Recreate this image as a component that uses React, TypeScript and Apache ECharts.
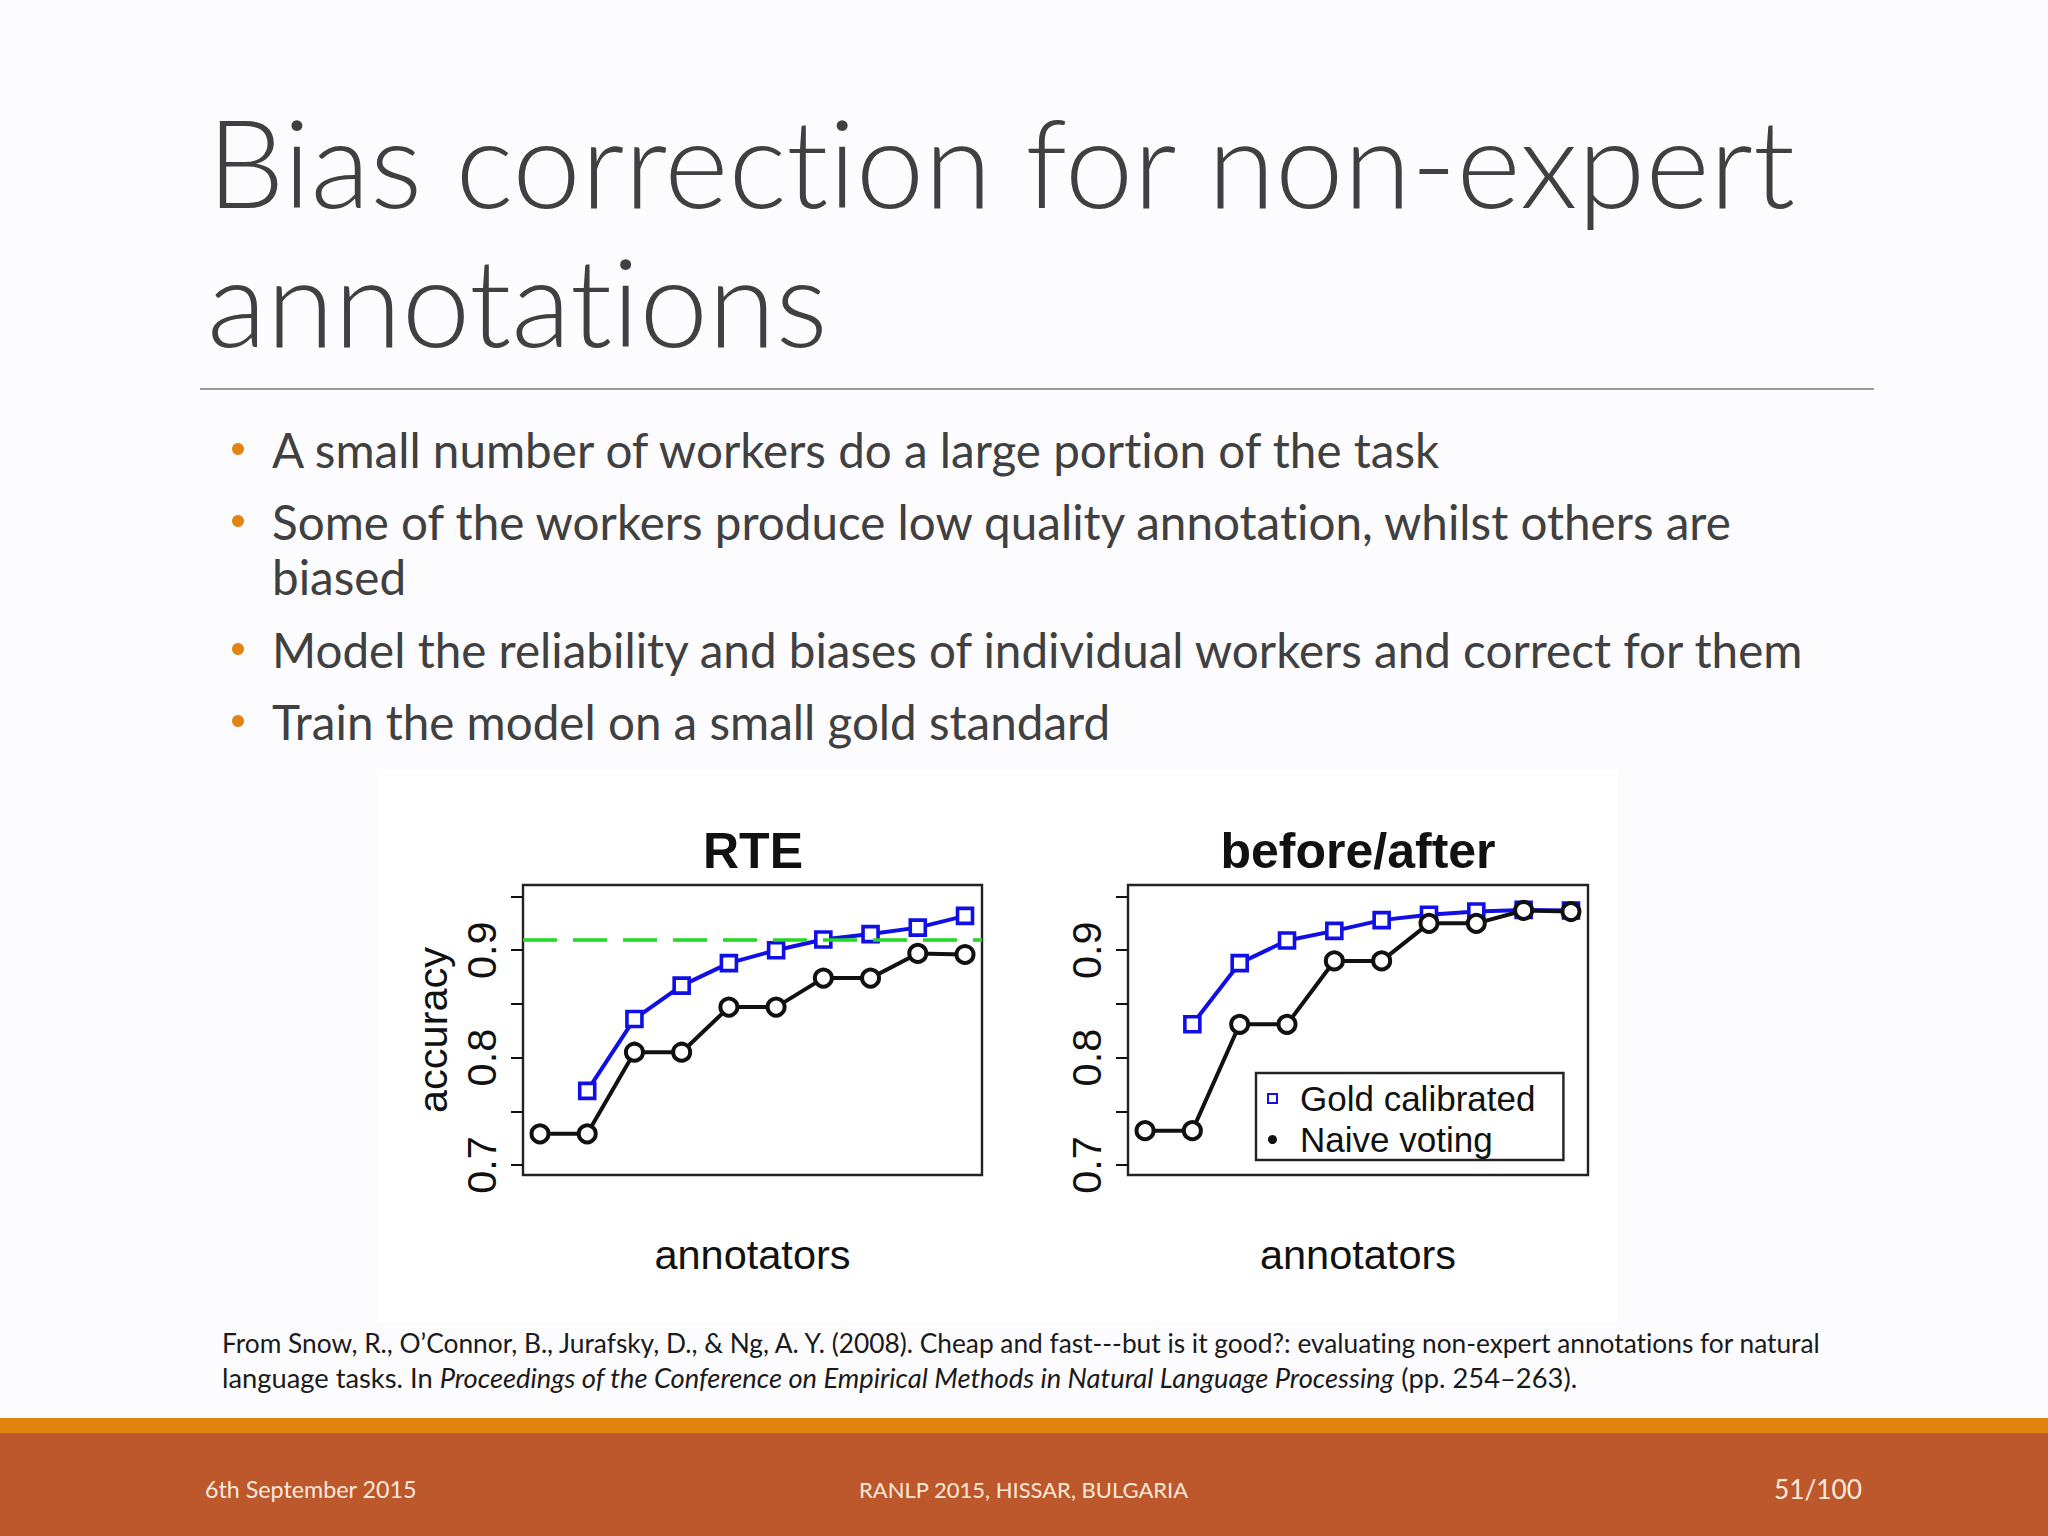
import React, { useEffect, useRef } from "react";
import * as echarts from "echarts";

// ---------- data ----------
const annotators = [1, 2, 3, 4, 5, 6, 7, 8, 9, 10];
const rteNaive = [0.729, 0.729, 0.805, 0.805, 0.847, 0.847, 0.874, 0.874, 0.897, 0.896];
const rteGold = [null, 0.769, 0.836, 0.867, 0.888, 0.9, 0.91, 0.915, 0.921, 0.932];
const rteExpert = 0.9106;
const baNaive = [0.732, 0.732, 0.831, 0.831, 0.89, 0.89, 0.925, 0.925, 0.937, 0.936];
const baGold = [null, 0.831, 0.888, 0.909, 0.918, 0.928, 0.933, 0.936, 0.9375, 0.937];
const yTickValues = [0.7, 0.75, 0.8, 0.85, 0.9, 0.95];
const yLabelValues = [0.7, 0.8, 0.9];
const panelTitles = ["RTE", "before/after"];
const seriesNames = ["Gold calibrated", "Naive voting"];
const yAxisTitle = "accuracy";
const xAxisTitle = "annotators";

const slideTitle = ["Bias correction for non-expert", "annotations"];
const bullets = [
  "A small number of workers do a large portion of the task",
  "Some of the workers produce low quality annotation, whilst others are",
  "biased",
  "Model the reliability and biases of individual workers and correct for them",
  "Train the model on a small gold standard",
];
const bulletHasDot = [true, true, false, true, true];
const citation1 =
  "From Snow, R., O\u2019Connor, B., Jurafsky, D., & Ng, A. Y. (2008). Cheap and fast---but is it good?: evaluating non-expert annotations for natural";
const citation2a = "language tasks. In ";
const citation2b = "Proceedings of the Conference on Empirical Methods in Natural Language Processing";
const citation2c = " (pp. 254\u2013263).";
const footerDate = "6th September 2015";
const footerVenue = "RANLP 2015, HISSAR, BULGARIA";
const footerPage = "51/100";

const BLUE = "#1010e6";
const BLACK = "#111111";
const GREEN = "#22d822";
const RFONT = "'Liberation Sans', Arial, sans-serif";
const SFONT = "Lato, 'Open Sans', sans-serif";

function measure(text: string, weight = "normal", style = "normal") {
  const c = document.createElement("canvas");
  const ctx = c.getContext("2d")!;
  ctx.font = `${style} ${weight} 100px ${SFONT}`;
  return ctx.measureText(text).width;
}
function fitSize(text: string, target: number, weight = "normal", style = "normal") {
  return (100 * target) / measure(text, weight, style);
}

function pairs(vals: (number | null)[]) {
  const out: number[][] = [];
  vals.forEach((v, i) => {
    if (v !== null) out.push([annotators[i], v]);
  });
  return out;
}

export default function App() {
  const ref = useRef<HTMLDivElement>(null);
  useEffect(() => {
    const chart = echarts.init(ref.current!, null, { renderer: "svg" });

    const titleSize = fitSize(slideTitle[0], 1593, "300");
    const bulletSizes = [
      fitSize(bullets[0], 1169),
      fitSize(bullets[1], 1463),
      fitSize(bullets[3], 1537),
      fitSize(bullets[4], 842),
    ];
    const bulletSize = bulletSizes.reduce((a, b) => a + b, 0) / bulletSizes.length;
    const citeSize = fitSize(citation1, 1603);
    const cite2W =
      measure(citation2a) + measure(citation2b, "normal", "italic") + measure(citation2c);
    const cite2Size = (100 * 1356) / cite2W;
    const dateSize = fitSize(footerDate, 212);
    const venueSize = fitSize(footerVenue, 330);
    const pageSize = fitSize(footerPage, 88);

    const bulletY = [449, 521, 576, 649, 721];

    const grids = [
      { left: 523, top: 885, width: 459, height: 290 },
      { left: 1128, top: 885, width: 460, height: 290 },
    ];

    const xAxes = grids.map((_, i) => ({
      type: "value",
      gridIndex: i,
      min: 0.64,
      max: 10.36,
      axisLine: { show: false },
      axisTick: { show: false },
      axisLabel: { show: false },
      splitLine: { show: false },
      name: xAxisTitle,
      nameLocation: "middle",
      nameGap: 58,
      nameTextStyle: { fontSize: 41.5, fontFamily: RFONT, color: BLACK },
    }));

    const yAxes = grids.map((_, i) => ({
      type: "value",
      gridIndex: i,
      min: 0.6907,
      max: 0.9607,
      axisLine: { show: false },
      axisTick: {
        show: true,
        customValues: yTickValues,
        length: 12,
        lineStyle: { color: BLACK, width: 2 },
      },
      axisLabel: {
        show: true,
        customValues: yLabelValues,
        rotate: 90,
        margin: 21,
        fontSize: 41.5,
        fontFamily: RFONT,
        color: BLACK,
        formatter: (v: number) => v.toFixed(1),
      },
      splitLine: { show: false },
      name: i === 0 ? yAxisTitle : "",
      nameLocation: "middle",
      nameRotate: 90,
      nameGap: 70,
      nameTextStyle: { fontSize: 41.5, fontFamily: RFONT, color: BLACK },
    }));

    const goldStyle = (xi: number, data: number[][], extra: any = {}) => ({
      name: seriesNames[0],
      type: "line",
      xAxisIndex: xi,
      yAxisIndex: xi,
      data,
      symbol: "rect",
      symbolSize: 15,
      lineStyle: { color: BLUE, width: 4 },
      itemStyle: { color: "#ffffff", borderColor: BLUE, borderWidth: 3.6 },
      z: 2,
      ...extra,
    });
    const naiveStyle = (xi: number, data: number[][]) => ({
      name: seriesNames[1],
      type: "line",
      xAxisIndex: xi,
      yAxisIndex: xi,
      data,
      symbol: "circle",
      symbolSize: 17,
      lineStyle: { color: BLACK, width: 4 },
      itemStyle: { color: "#ffffff", borderColor: BLACK, borderWidth: 4 },
      z: 3,
    });

    const series = [
      goldStyle(0, pairs(rteGold), {
        markLine: {
          silent: true,
          symbol: "none",
          label: { show: false },
          lineStyle: { color: GREEN, type: [34, 16], width: 3.5 },
          data: [{ yAxis: rteExpert }],
        },
      }),
      naiveStyle(0, pairs(rteNaive)),
      goldStyle(1, pairs(baGold)),
      naiveStyle(1, pairs(baNaive)),
    ];

    const txt = (
      text: string,
      x: number,
      y: number,
      size: number,
      fill: string,
      extra: any = {}
    ) => ({
      type: "text",
      x,
      y,
      z: 10,
      style: {
        text,
        fill,
        fontSize: size,
        fontFamily: SFONT,
        align: "left",
        textAlign: "left",
        verticalAlign: "middle",
        textVerticalAlign: "middle",
        ...extra,
      },
    });

    const graphic: any[] = [
      // white picture area behind the two panels
      { type: "rect", z: -10, shape: { x: 378, y: 770, width: 1239, height: 552 }, style: { fill: "#ffffff" } },
      // footer bands
      { type: "rect", z: -10, shape: { x: 0, y: 1418, width: 2048, height: 16 }, style: { fill: "#E2830F" } },
      { type: "rect", z: -10, shape: { x: 0, y: 1433, width: 2048, height: 103 }, style: { fill: "#BD582C" } },
      // rule under title
      { type: "line", z: 5, shape: { x1: 200, y1: 389, x2: 1874, y2: 389 }, style: { stroke: "#9c9c9c", lineWidth: 2 } },
      // slide title
      txt(slideTitle[0], 207, 160, titleSize, "#404040", { fontWeight: 300 }),
      txt(slideTitle[1], 207, 299, titleSize, "#404040", { fontWeight: 300 }),
      // panel titles
      {
        type: "text", z: 10, x: 753, y: 851,
        style: { text: panelTitles[0], fill: BLACK, fontSize: 50, fontWeight: "bold", fontFamily: RFONT, align: "center", textAlign: "center", verticalAlign: "middle", textVerticalAlign: "middle" },
      },
      {
        type: "text", z: 10, x: 1358, y: 851,
        style: { text: panelTitles[1], fill: BLACK, fontSize: 50, fontWeight: "bold", fontFamily: RFONT, align: "center", textAlign: "center", verticalAlign: "middle", textVerticalAlign: "middle" },
      },
      // citation
      txt(citation1, 222, 1343, citeSize, "#1a1a1a"),
      {
        type: "text", z: 10, x: 222, y: 1377,
        style: {
          text: `${citation2a}{i|${citation2b}}${citation2c}`,
          fill: "#1a1a1a",
          fontSize: cite2Size,
          fontFamily: SFONT,
          align: "left",
          textAlign: "left",
          verticalAlign: "middle",
          textVerticalAlign: "middle",
          rich: {
            i: { fontStyle: "italic", fontSize: cite2Size, fontFamily: SFONT, fill: "#1a1a1a" },
          },
        },
      },
      // footer
      txt(footerDate, 205, 1489, dateSize, "#FBE9DC"),
      txt(footerVenue, 859, 1489, venueSize, "#FBE9DC"),
      txt(footerPage, 1862, 1489, pageSize, "#FBE9DC", { align: "right", textAlign: "right" }),
    ];

    bullets.forEach((b, i) => {
      graphic.push(txt(b, 272, bulletY[i], bulletSize, "#404040"));
      if (bulletHasDot[i]) {
        graphic.push({
          type: "circle",
          z: 10,
          shape: { cx: 238, cy: bulletY[i], r: 6 },
          style: { fill: "#E48312" },
        });
      }
    });

    const option: any = {
      animation: false,
      backgroundColor: "#FCFBFE",
      grid: grids.map((g) => ({
        ...g,
        show: true,
        borderColor: "#222222",
        borderWidth: 2.4,
        backgroundColor: "transparent",
        containLabel: false,
      })),
      xAxis: xAxes,
      yAxis: yAxes,
      legend: {
        show: true,
        orient: "vertical",
        left: 1256,
        top: 1073,
        padding: [8, 28, 3, 11],
        itemGap: 6,
        itemWidth: 9,
        itemHeight: 9,
        borderColor: "#222222",
        borderWidth: 2.4,
        borderRadius: 0,
        backgroundColor: "#ffffff",
        selectedMode: false,
        textStyle: {
          fontSize: 35,
          fontFamily: RFONT,
          color: BLACK,
          padding: [0, 0, 0, 18],
        },
        data: [
          { name: seriesNames[0], icon: "rect", itemStyle: { color: "#ffffff", borderColor: BLUE, borderWidth: 2 } },
          { name: seriesNames[1], icon: "circle", itemStyle: { color: BLACK, borderWidth: 0 } },
        ],
      },
      graphic,
      series,
    };

    chart.setOption(option);
    return () => chart.dispose();
  }, []);

  return (
    <>
      <style>{`text, tspan { font-variant-ligatures: none; font-feature-settings: "liga" 0, "clig" 0; }`}</style>
      <div
        ref={ref}
        style={{ position: "absolute", left: 0, top: 0, width: 2048, height: 1536 }}
      />
    </>
  );
}
